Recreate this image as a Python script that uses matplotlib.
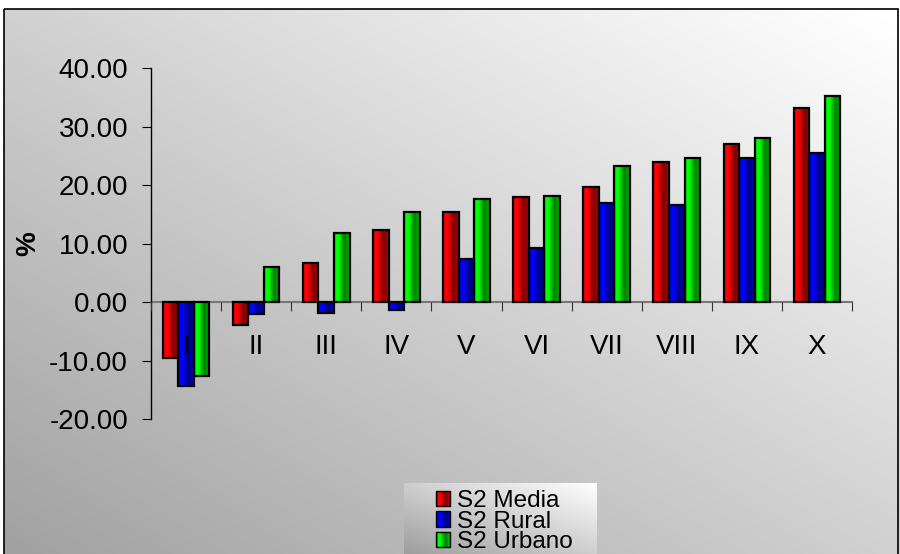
import numpy as np
import matplotlib
matplotlib.use("Agg")
import matplotlib.pyplot as plt
from matplotlib.patches import Rectangle
from matplotlib.legend_handler import HandlerBase

plt.rcParams['font.family'] = ['Liberation Sans', 'DejaVu Sans']

# Decile groups and series values (%)
categories = ["I", "II", "III", "IV", "V", "VI", "VII", "VIII", "IX", "X"]
media = [-9.5, -3.9, 6.7, 12.4, 15.4, 17.9, 19.7, 23.9, 27.1, 33.2]
rural = [-14.4, -2.1, -1.8, -1.4, 7.3, 9.3, 16.9, 16.6, 24.6, 25.5]
urbano = [-12.6, 6.0, 11.8, 15.4, 17.6, 18.2, 23.2, 24.6, 28.1, 35.2]
series_names = ["S2 Media", "S2 Rural", "S2 Urbano"]
y_ticks = [-20, -10, 0, 10, 20, 30, 40]

W, H = 900, 554
fig = plt.figure(figsize=(W / 100, H / 100), dpi=100)

# Diagonal grey-to-white backdrop inside a thin frame
bg = fig.add_axes([0, 0, 1, 1], zorder=-10)
xs = np.arange(W) / W
ys = np.arange(H) / H
val = 0.63 + 0.19 * xs[None, :] + 0.19 * (1 - ys[:, None])
val = np.clip(val, 0, 1)
val[:9, :] = 1.0
val[:, :4] = 1.0
bg.imshow(np.dstack([val] * 3), extent=[0, W, H, 0], aspect='auto', interpolation='bilinear')
bg.add_patch(Rectangle((4, 9), 894, 560, fill=False, edgecolor='black', lw=1.2))
bg.set_xlim(0, W)
bg.set_ylim(H, 0)
bg.axis('off')

ax = fig.add_axes([151 / W, (H - 419) / H, 701 / W, 350.7 / H])
ax.set_facecolor('none')

x = np.arange(len(categories))
bw = 0.222
palettes = [((1.0, 0.0, 0.0), (0.5, 0.0, 0.0)),
            ((0.0, 0.0, 1.0), (0.0, 0.0, 0.5)),
            ((0.0, 1.0, 0.0), (0.0, 0.5, 0.0))]

# horizontal shading profile across each bar (1 = bright colour, 0 = dark)
prof_t = [0.0, 0.12, 0.3, 0.65, 1.0]
prof_v = [0.45, 1.0, 1.0, 0.0, 0.4]


def shade(bright, dark, n=64):
    t = np.linspace(0, 1, n)
    m = np.interp(t, prof_t, prof_v)
    b = np.array(bright)
    d = np.array(dark)
    return (d[None, :] + (b - d)[None, :] * m[:, None])[None, :, :]


containers = []
for k, (vals, name) in enumerate(zip([media, rural, urbano], series_names)):
    off = (k - 1) * bw
    bars = ax.bar(x + off, vals, bw, color='none', edgecolor='black', lw=1.6,
                  zorder=3, label=name)
    containers.append(bars)
    img = shade(*palettes[k])
    for rect in bars:
        x0 = rect.get_x()
        y0 = rect.get_y()
        h = rect.get_height()
        im = ax.imshow(img, extent=[x0, x0 + rect.get_width(), min(y0, y0 + h), max(y0, y0 + h)],
                       aspect='auto', zorder=2.5, interpolation='bilinear')
        im.set_clip_path(rect)

ax.set_xlim(-0.5, len(categories) - 0.5)
ax.set_ylim(-20, 40)

for s in ['top', 'right']:
    ax.spines[s].set_visible(False)
ax.spines['left'].set_color('black')
ax.spines['left'].set_linewidth(1.0)
ax.spines['bottom'].set_position(('data', 0))
ax.spines['bottom'].set_color('#777777')
ax.spines['bottom'].set_linewidth(1.5)
ax.spines['bottom'].set_zorder(2)

ax.set_yticks(y_ticks)
ax.set_yticklabels([f"{v:.2f}" for v in y_ticks])
ax.tick_params(axis='y', direction='out', length=6.5, width=0.8, color='black',
               pad=10, labelsize=20)

ax.set_xticks(x)
ax.set_xticklabels(categories)
ax.set_xticks(np.arange(len(categories) + 1) - 0.5, minor=True)
ax.tick_params(axis='x', which='major', length=0, pad=23, labelsize=20)
ax.tick_params(axis='x', which='minor', direction='out', length=6.5, width=0.8, color='#333333')
# category names sit on top of the negative bars
ax.xaxis.set_zorder(4)

ax.set_ylabel('%', fontsize=20, fontweight='bold')
ax.yaxis.set_label_coords(-0.157, 0.5)


# Legend: shaded swatches on a graded panel
class ShadedHandler(HandlerBase):
    def __init__(self, bright, dark):
        super().__init__()
        self.bright = bright
        self.dark = dark

    def create_artists(self, legend, orig_handle, xdescent, ydescent, width, height, fontsize, trans):
        cols = shade(self.bright, self.dark, n=8)[0]
        n = len(cols)
        arts = []
        for i, c in enumerate(cols):
            arts.append(Rectangle((-xdescent + i * width / n, -ydescent), width / n + 0.01, height,
                                  facecolor=c, edgecolor='none', transform=trans))
        arts.append(Rectangle((-xdescent, -ydescent), width, height, facecolor='none',
                              edgecolor='black', lw=1.0, transform=trans))
        return arts


lx0, ly0 = 404, 483
lax = fig.add_axes([lx0 / W, 0, (597 - lx0) / W, (H - ly0) / H], zorder=1)
u = np.linspace(0, 1, 200)
v = np.linspace(0, 1, 80)
lv = 0.62 + 0.19 * u[None, :] + 0.19 * (1 - v[:, None])
lax.imshow(np.dstack([lv] * 3), extent=[0, 1, 0, 1], aspect='auto', interpolation='bilinear')
lax.set_xlim(0, 1)
lax.set_ylim(0, 1)
lax.axis('off')

handler_map = {c: ShadedHandler(*palettes[i]) for i, c in enumerate(containers)}
leg = lax.legend(handles=containers, labels=series_names, handler_map=handler_map,
                 loc='upper left', bbox_to_anchor=(436 / W, 1 - 490 / H),
                 bbox_transform=fig.transFigure, frameon=False, fontsize=17.5,
                 borderpad=0, borderaxespad=0, handlelength=0.58, handleheight=0.58,
                 handletextpad=0.28, labelspacing=-0.06)

fig.savefig('out.png', dpi=100)
